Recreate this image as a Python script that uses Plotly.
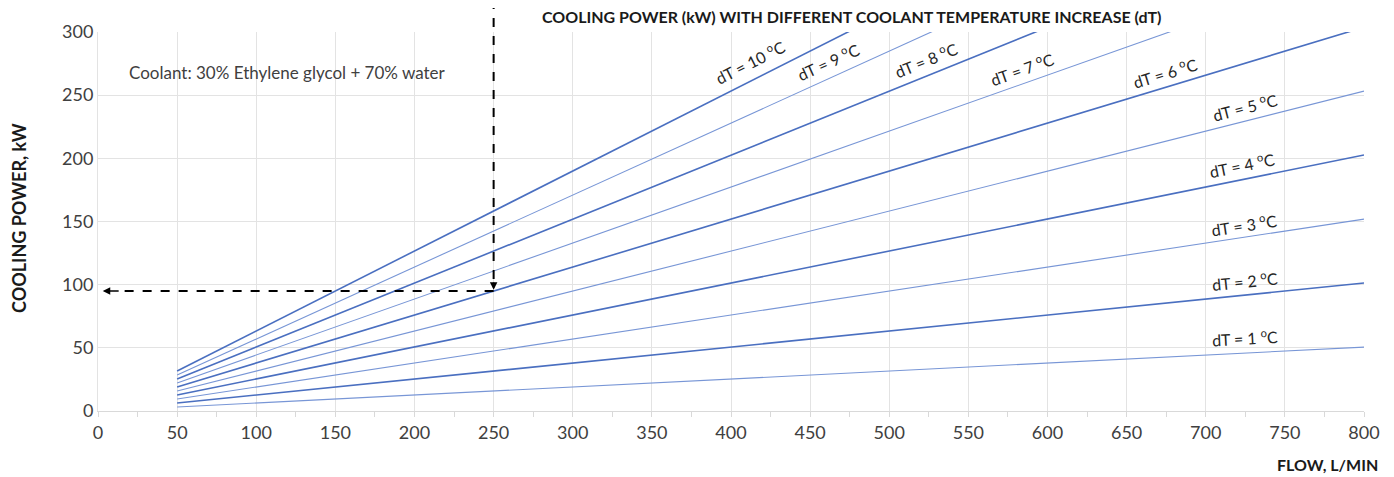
import math
import plotly.graph_objects as go

# ---- data ----
flow_points = [50, 800]                       # L/min, start and end of every line
dT_values = [1, 2, 3, 4, 5, 6, 7, 8, 9, 10]  # coolant temperature increase, °C
power_at_50 = [3.2, 6.3, 9.5, 12.7, 15.8, 19.0, 22.2, 25.3, 28.5, 31.7]            # kW
power_at_800 = [50.6, 101.3, 151.9, 202.6, 253.2, 303.8, 354.5, 405.1, 455.8, 506.4]  # kW

# label anchor positions (flow, power) for each dT label
label_flow = [725, 725, 724, 723, 725, 674, 584, 523, 461, 412]
label_power = [58, 103, 148, 195, 241, 268, 271, 278, 277, 277]

selected_flow = 250   # L/min, example read-off
selected_power = 95   # kW

x_ticks = list(range(0, 801, 50))
y_ticks = list(range(0, 301, 50))

FONT = "Lato, Open Sans, sans-serif"

# page has an 8px body margin; compensate so the plot lands where the reference has it
OFF = 8
W, H = 1394 - OFF, 477 - OFF
L, R, T, B = 98 - OFF, 30, 32 - OFF, 66
pw, ph = W - L - R, H - T - B
px_per_flow = pw / 800
px_per_kw = ph / 300


def px_x(page_x):
    return (page_x - OFF - L) / pw


def px_y(page_y):
    return 1 - (page_y - OFF - T) / ph


fig = go.Figure()

for i, dT in enumerate(dT_values):
    even = dT % 2 == 0
    fig.add_trace(go.Scatter(
        x=flow_points,
        y=[power_at_50[i], power_at_800[i]],
        mode="lines",
        line=dict(color="#4a6fc0" if even else "#7896d6", width=1.6 if even else 1.1),
        name=f"dT = {dT} °C",
        showlegend=False,
        hoverinfo="skip",
    ))

for i, dT in enumerate(dT_values):
    slope = (power_at_800[i] - power_at_50[i]) / (800 - 50)
    ang = math.degrees(math.atan(slope * px_per_kw / px_per_flow))
    fig.add_annotation(
        x=label_flow[i], y=label_power[i], xref="x", yref="y",
        text=f"dT = {dT} <sup>o</sup>C", showarrow=False,
        textangle=-ang,
        font=dict(family=FONT, size=16, color="#262626"),
    )

# dashed read-off lines
fig.add_shape(type="line", xref="x", yref="paper",
              x0=selected_flow, x1=selected_flow, y0=px_y(0),
              y1=(selected_power + 6) / 300,
              line=dict(color="black", width=2, dash="dash"))
fig.add_shape(type="line", xref="x", yref="y",
              x0=selected_flow, x1=12, y0=selected_power, y1=selected_power,
              line=dict(color="black", width=2, dash="dash"))
fig.add_annotation(x=selected_flow, y=selected_power + 1, ax=selected_flow, ay=selected_power + 8,
                   xref="x", yref="y", axref="x", ayref="y", text="", showarrow=True,
                   arrowhead=2, arrowsize=1, arrowwidth=1.5, arrowcolor="black")
fig.add_annotation(x=3, y=selected_power, ax=14, ay=selected_power,
                   xref="x", yref="y", axref="x", ayref="y", text="", showarrow=True,
                   arrowhead=2, arrowsize=1, arrowwidth=1.5, arrowcolor="black")

fig.add_annotation(
    x=px_x(127), y=px_y(72), xref="paper", yref="paper",
    xanchor="left", yanchor="middle",
    text="Coolant: 30% Ethylene glycol + 70% water", showarrow=False,
    font=dict(family=FONT, size=17, color="#404040"),
)

fig.add_annotation(
    x=px_x(851), y=px_y(16), xref="paper", yref="paper",
    xanchor="center", yanchor="middle",
    text="<b>COOLING POWER (kW) WITH DIFFERENT COOLANT TEMPERATURE INCREASE (dT)</b>",
    showarrow=False,
    font=dict(family=FONT, size=16, color="#1a1a1a"),
)
fig.add_annotation(
    x=px_x(1380), y=px_y(464), xref="paper", yref="paper",
    xanchor="right", yanchor="middle",
    text="<b>FLOW, L/MIN</b>", showarrow=False,
    font=dict(family=FONT, size=16, color="#1a1a1a"),
)
fig.add_annotation(
    x=px_x(19), y=px_y(218), xref="paper", yref="paper",
    xanchor="center", yanchor="middle", textangle=-90,
    text="<b>COOLING POWER, kW</b>", showarrow=False,
    font=dict(family=FONT, size=18, color="#1a1a1a"),
)

fig.update_layout(
    width=W, height=H,
    margin=dict(l=L, r=R, t=T, b=B),
    plot_bgcolor="white", paper_bgcolor="white",
    font=dict(family=FONT, size=18, color="#404040"),
    xaxis=dict(range=[0, 800], tickvals=x_ticks, showgrid=True, gridcolor="#e3e3e3",
               showline=True, linecolor="#d9d9d9", ticks="outside", ticklen=5,
               tickcolor="#d9d9d9", zeroline=False,
               minor=dict(dtick=25, ticks="outside", ticklen=5, tickcolor="#d9d9d9", showgrid=False)),
    yaxis=dict(range=[0, 300], tickvals=y_ticks, showgrid=True, gridcolor="#e3e3e3",
               showline=True, linecolor="#e3e3e3", zeroline=False, ticklen=0),
)

fig.write_html("out.html")
